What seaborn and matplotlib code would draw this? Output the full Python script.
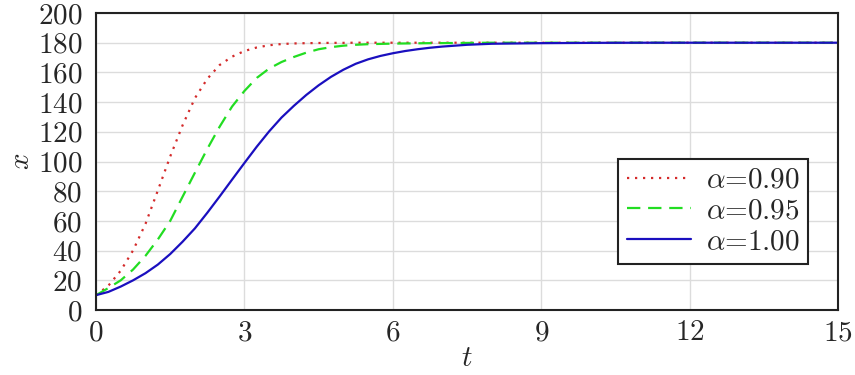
import matplotlib
matplotlib.use("Agg")
import matplotlib.pyplot as plt
import seaborn as sns
import pandas as pd

# values
t = [0, 0.25, 0.5, 0.75, 1, 1.25, 1.5, 1.75, 2, 2.25, 2.5, 2.75, 3, 3.25, 3.5,
     3.75, 4, 4.25, 4.5, 4.75, 5, 5.25, 5.5, 5.75, 6, 6.25, 6.5, 6.75, 7, 7.5,
     8, 9, 10, 11, 12, 13, 14, 15]

x_090 = [10, 16.4, 26.5, 40.2, 58, 80.5, 103.4, 124.4, 142.7, 155.7, 165, 170.6,
         174.4, 176.8, 178.3, 179.1, 179.5, 179.7, 179.8, 179.9, 179.9, 180, 180,
         180, 180, 180, 180, 180, 180, 180, 180, 180, 180, 180, 180, 180, 180, 180]
x_095 = [10, 14.8, 20, 27.3, 36.5, 47.5, 60, 76.3, 92.5, 108.5, 123.5, 137,
         147.5, 156.3, 162.6, 167, 170.4, 173.3, 175.6, 177, 178, 178.6, 179,
         179.2, 179.4, 179.5, 179.6, 179.7, 179.75, 179.85, 180, 180, 180, 180,
         180, 180, 180, 180]
x_100 = [10, 12.2, 15.8, 20, 24.8, 30.6, 37.7, 46, 55, 65.5, 76.5, 87.8,
         99, 110, 120.3, 129.6, 137.5, 144.8, 151.3, 157, 161.8, 165.8, 168.8,
         171.1, 172.9, 174.4, 175.6, 176.6, 177.4, 178.6, 179.3, 179.7, 179.9,
         180, 180, 180, 180, 180]

labels = [r"$\alpha$=0.90", r"$\alpha$=0.95", r"$\alpha$=1.00"]

df = pd.DataFrame({"t": t, "a090": x_090, "a095": x_095, "a100": x_100})

sns.set_style("whitegrid")
plt.rcParams["font.family"] = "cmr10"
plt.rcParams["mathtext.fontset"] = "cm"
plt.rcParams["axes.formatter.use_mathtext"] = True

fig = plt.figure(figsize=(8.55, 3.75), dpi=100)
ax = fig.add_axes([0.1123, 0.1733, 0.8678, 0.792])

sns.lineplot(data=df, x="t", y="a090", ax=ax, color="#d42a2a", linewidth=1.6,
             linestyle=(0, (1, 2.6)), label=labels[0])
sns.lineplot(data=df, x="t", y="a095", ax=ax, color="#22dd22", linewidth=1.6,
             linestyle=(0, (6, 3.5)), label=labels[1])
sns.lineplot(data=df, x="t", y="a100", ax=ax, color="#1a0fbf", linewidth=1.6,
             linestyle="-", label=labels[2])

ax.set_xlim(0, 15)
ax.set_ylim(0, 200)
ax.set_xticks([0, 3, 6, 9, 12, 15])
ax.set_yticks(range(0, 201, 20))
ax.set_xlabel(r"$t$", fontsize=21, labelpad=0)
ax.set_ylabel(r"$x$", fontsize=21, labelpad=2)
ax.tick_params(axis="both", labelsize=21, direction="in", length=4, width=1.3,
               color="#222222")
ax.tick_params(axis="y", pad=10)
ax.tick_params(axis="x", pad=7)
ax.grid(True, color="#dcdcdc", linewidth=1.0)
for s in ax.spines.values():
    s.set_color("#222222")
    s.set_linewidth(1.5)

leg = ax.legend(loc="upper right", bbox_to_anchor=(0.96, 0.51), borderaxespad=0,
                fontsize=21, frameon=True, fancybox=False, framealpha=1,
                handlelength=2.2, handletextpad=0.5, labelspacing=0.15,
                borderpad=0.3)
leg.get_frame().set_edgecolor("#222222")
leg.get_frame().set_linewidth(1.5)

fig.savefig("out.png", dpi=100)
